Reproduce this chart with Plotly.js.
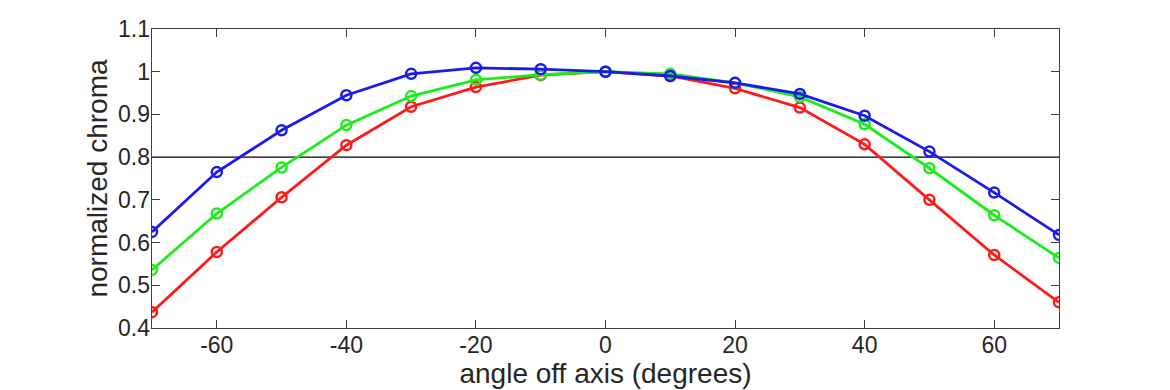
<!DOCTYPE html>
<html><head><meta charset="utf-8">
<script src="https://cdn.plot.ly/plotly-3.0.1.min.js"></script>
<style>html,body{margin:0;padding:0;background:#fff}#chart{width:1170px;height:390px}</style>
</head><body><div id="chart"></div>
<script>
const angles = [-70,-60,-50,-40,-30,-20,-10,0,10,20,30,40,50,60,70];
const redValues   = [0.437,0.578,0.706,0.828,0.918,0.964,0.992,1.0,0.99,0.961,0.916,0.830,0.700,0.571,0.460];
const greenValues = [0.536,0.668,0.776,0.875,0.943,0.981,0.993,1.0,0.995,0.974,0.941,0.877,0.774,0.664,0.564];
const blueValues  = [0.625,0.765,0.863,0.945,0.995,1.009,1.006,1.0,0.990,0.974,0.948,0.897,0.813,0.717,0.618];
const thresholdValue = 0.8;
const xTicks = [-60,-40,-20,0,20,40,60];
const xTickText = ['-60','-40','-20','0','20','40','60'];
const yTicks = [0.4,0.5,0.6,0.7,0.8,0.9,1,1.1];
const yTickText = ['0.4','0.5','0.6','0.7','0.8','0.9','1','1.1'];

function series(y, color){
  return {x: angles, y: y, type:'scatter', mode:'lines+markers',
    line:{color:color, width:2.8},
    marker:{symbol:'circle-open', size:10, color:color, line:{width:2.5, color:color}},
    showlegend:false, hoverinfo:'none'};
}
const traces = [
  {x:[-70,70], y:[thresholdValue,thresholdValue], type:'scatter', mode:'lines', line:{color:'#000', width:1.3}, showlegend:false, hoverinfo:'none'},
  series(redValues,'#ff1a1a'),
  series(greenValues,'#1aee1a'),
  series(blueValues,'#1a1aee')
];
const fam = '"Liberation Sans", Arial, sans-serif';
const axisFont = {family:fam, size:23, color:'#262626'};
const titleFont = {family:fam, size:28, color:'#262626'};
const layout = {
  width:1170, height:390,
  margin:{l:152, r:111, t:29, b:62},
  paper_bgcolor:'#fff', plot_bgcolor:'#fff',
  xaxis:{range:[-70,70], tickmode:'array', tickvals:xTicks, ticktext:xTickText, ticks:'inside', ticklen:8, tickcolor:'#404040', tickwidth:1,
    showline:true, linecolor:'#404040', linewidth:1.4, mirror:'ticks', showgrid:false, zeroline:false,
    tickfont:axisFont, ticklabelstandoff:-4,
    title:{text:'angle off axis (degrees)', font:titleFont, standoff:0}},
  yaxis:{range:[0.4,1.1], tickmode:'array', tickvals:yTicks, ticktext:yTickText, ticks:'inside', ticklen:8, tickcolor:'#404040', tickwidth:1,
    showline:true, linecolor:'#404040', linewidth:1.4, mirror:'ticks', showgrid:false, zeroline:false,
    tickfont:axisFont, ticklabelstandoff:-4,
    title:{text:'normalized chroma', font:titleFont, standoff:2}}
};
Plotly.newPlot('chart', traces, layout, {staticPlot:true, displayModeBar:false});
</script></body></html>
